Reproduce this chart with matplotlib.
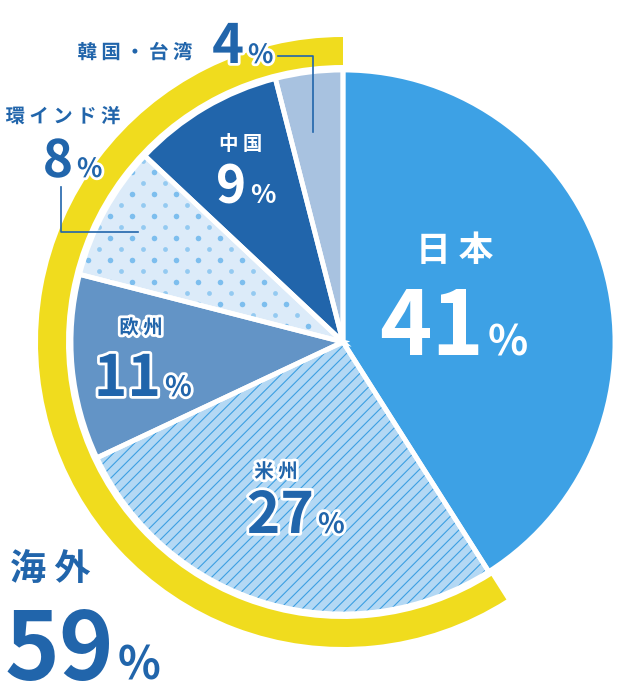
import matplotlib
matplotlib.use('Agg')
import matplotlib.pyplot as plt
import matplotlib.patheffects as pe
from matplotlib.patches import Wedge
import numpy as np

# shares by region (%), clockwise from 12 o'clock
regions = ['日本', '米州', '欧州', '環インド洋', '中国', '韓国・台湾']
shares = [41, 27, 11, 8, 9, 4]
overseas_label = '海外'
overseas_share = sum(shares[1:])

colors = ['#3DA1E5', '#B3D8F4', '#6394C6', '#DCEBF9', '#2165AB', '#A8C2E0']
dark = '#2165AB'
yellow = '#F0DC1E'

W, H = 620, 700
cx, cy, R = 343, 342, 272


def Y(y):
    # picture coords (top-down) -> axes coords
    return H - y


plt.rcParams['font.family'] = ['Noto Sans CJK JP', 'DejaVu Sans']
plt.rcParams['hatch.linewidth'] = 0.8

fig = plt.figure(figsize=(6.2, 7), dpi=100)
ax = fig.add_axes([0, 0, 1, 1])

# fill layer (hatch colour comes from edgecolor)
wedges, _ = ax.pie(shares, colors=colors, startangle=90, counterclock=False,
                   center=(cx, Y(cy)), radius=R,
                   wedgeprops=dict(linewidth=0, edgecolor='none'))
wedges[1].set_hatch('///')
wedges[1].set_edgecolor('#3C9FE2')
wedges[1].set_linewidth(0)

# dotted texture for 環インド洋
step = 11
xs = np.arange(0, W, step)
ys = np.arange(0, H, step)
gx, gy = np.meshgrid(xs, ys)
on = ((gx // step + gy // step) % 2 == 0)
big = ((gy // step) % 2 == 0)
d1 = ax.scatter(gx[on & big], gy[on & big], s=16, color='#7DBEEE', lw=0, zorder=2)
d2 = ax.scatter(gx[on & ~big], gy[on & ~big], s=12, color='#94CAF1', lw=0, zorder=2)
for d in (d1, d2):
    d.set_clip_path(wedges[3])

# white separators on top
ax.pie(shares, colors=['none'] * len(shares), startangle=90, counterclock=False,
       center=(cx, Y(cy)), radius=R,
       wedgeprops=dict(linewidth=3.5, edgecolor='white', fill=False, zorder=3))

# yellow ring round the overseas part
end_angle = 90 - 360 * shares[0] / 100
ring = Wedge((cx, Y(cy)), 305, 90, 360 + end_angle, width=28, color=yellow, lw=0, zorder=1)
ax.add_patch(ring)

outline = [pe.withStroke(linewidth=4, foreground='white')]


def label(x, y, txt, size, color, stroke=True, **kw):
    ax.text(x, Y(y), txt, fontsize=size, color=color, fontweight='bold',
            path_effects=outline if stroke else None, zorder=5, **kw)


def pct(xr, base, val, size, psize, color, stroke=True):
    label(xr, base, str(val), size, color, stroke, ha='right', va='baseline')
    label(xr + 4, base, '%', psize, color, stroke, ha='left', va='baseline')


# 日本
label(455, 250, ' '.join(regions[0]), 25, 'white', False, ha='center', va='center')
pct(484, 355, shares[0], 64, 30, 'white', False)
# 米州
label(276, 472, ' '.join(regions[1]), 14, dark, ha='center', va='center')
pct(314, 533, shares[1], 41, 20, dark)
# 欧州
label(141, 328, ' '.join(regions[2]), 14, dark, ha='center', va='center')
pct(161, 396, shares[2], 41, 20, dark)
# 環インド洋
label(63, 117, ' '.join(regions[3]), 14, dark, ha='center', va='center')
pct(73, 177, shares[3], 37, 19, dark)
# 中国
label(241, 144, ' '.join(regions[4]), 14, 'white', False, ha='center', va='center')
pct(246, 203, shares[4], 37, 19, 'white', False)
# 韓国・台湾
label(135, 53, ' '.join(regions[5]), 14, dark, ha='center', va='center')
pct(244, 63, shares[5], 39, 19, dark)

# leader lines
ax.plot([278, 313, 313], [Y(56), Y(56), Y(132)], color=dark, lw=1.2, zorder=4)
ax.plot([61, 61, 138], [Y(187), Y(232), Y(232)], color=dark, lw=1.2, zorder=4)

# 海外 59%
label(50, 570, ' '.join(overseas_label), 26, dark, False, ha='center', va='center')
pct(114, 680, overseas_share, 67, 32, dark, False)

ax.set_xlim(0, W)
ax.set_ylim(0, H)
ax.set_aspect('equal')
ax.axis('off')

fig.savefig('out.png', dpi=100)
